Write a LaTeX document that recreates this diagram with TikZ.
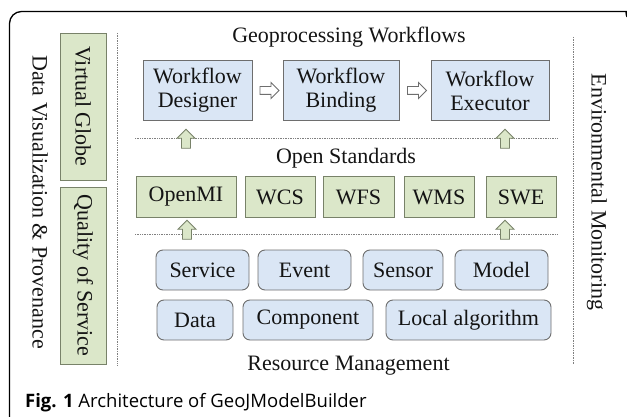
\documentclass[tikz,border=0pt]{standalone}
\usepackage{fontspec}
\setmainfont{Liberation Serif}
\newfontfamily\capfont{Open Sans}
\usetikzlibrary{shapes.arrows}
\definecolor{wfblue}{RGB}{218,230,245}
\definecolor{stdgreen}{RGB}{219,231,201}
\definecolor{boxline}{RGB}{110,110,110}
\definecolor{stdline}{RGB}{120,130,105}
\definecolor{txtgray}{RGB}{20,20,20}
\begin{document}
\begin{tikzpicture}[x=1pt,y=-1pt,every node/.style={font=\fontsize{22}{24}\selectfont,text=txtgray,inner sep=0pt},
    wbox/.style={draw=boxline,line width=0.9pt,fill=wfblue,minimum height=60,align=center},
    sbox/.style={draw=stdline,line width=0.9pt,fill=stdgreen,minimum height=41},
    rbox/.style={draw=boxline,line width=0.9pt,fill=wfblue,rounded corners=7,minimum height=40},
    rarrow/.style={single arrow,draw=boxline,line width=0.9pt,fill=white,minimum height=19,minimum width=15,single arrow head extend=4,inner sep=3.5pt},
    uarrow/.style={rarrow,draw=stdline,fill=stdgreen,minimum height=19,minimum width=18,shape border rotate=90},
    sepline/.style={densely dotted,draw=gray,line width=0.7pt}]
    \useasboundingbox (0,0) rectangle (627,417);
    % cadre
    \draw[line width=1.3pt] (9.5,417) [rounded corners=12] |- (620,11.5) [sharp corners] to[out=0,in=100] (627,17);
    % colonnes laterales
    \node[rotate=-90] (leftlabel) at (40,202) {Data Visualization \& Provenance};
    \node[sbox,rotate=-90,minimum width=147,minimum height=46] (vglobe) at (83,106.5) {Virtual Globe};
    \node[sbox,rotate=-90,minimum width=177,minimum height=46] (qos) at (83,275.5) {Quality of Service};
    \node[rotate=-90] (rightlabel) at (597,192) {Environmental Monitoring};
    \draw[sepline] (117,33) -- (117,365) (573,37) -- (573,365);
    % Geoprocessing Workflows
    \node[anchor=base] (geotitle) at (349,43) {Geoprocessing Workflows};
    \node[wbox,minimum width=109] (designer) at (197.5,90.5) {Workflow\\Designer};
    \node[wbox,minimum width=116] (binding) at (341,90.5) {Workflow\\Binding};
    \node[wbox,minimum width=118] (executor) at (490,90.5) {Workflow\\Executor};
    \path (designer.east) -- node[rarrow] (ra1) {} (binding.west);
    \path (binding.east) -- node[rarrow] (ra2) {} (executor.west);
    \draw[sepline] (135,138) -- (557,138) (135,234) -- (557,234);
    \foreach \mname/\x/\y in {ua1/186/141,ua2/505/141,ua3/187/232,ua4/505/232} \node[uarrow] (\mname) at (\x,\y) {};
    % Open Standards
    \node[anchor=base] (stdtitle) at (346,164) {Open Standards};
    \foreach \mname/\x/\w/\mtext in {openmi/186/100/OpenMI,wcs/280/70/WCS,wfs/358.5/71/WFS,wms/439/70/WMS,swe/521/70/SWE}
        \node[sbox,minimum width=\w] (\mname) at (\x,197) {\mtext};
    % Resource Management
    \foreach \mname/\x/\w/\mtext in {service/202.5/93/Service,event/304.5/93/Event,sensor/403/80/Sensor,model/501.5/93/Model}
        \node[rbox,minimum width=\w] (\mname) at (\x,270) {\mtext};
    \foreach \mname/\x/\w/\mtext in {data/195/76/Data,component/308/130/Component,localalg/468.5/165/Local algorithm}
        \node[rbox,minimum width=\w] (\mname) at (\x,320) {\mtext};
    \node[anchor=base] (restitle) at (348.5,370) {Resource Management};
    % legende
    \node[anchor=base west,font=\capfont\fontsize{18.5}{20}\selectfont,text=black] (caption) at (25,407) {\textbf{Fig. 1} Architecture of GeoJModelBuilder};
\end{tikzpicture}
\end{document}
